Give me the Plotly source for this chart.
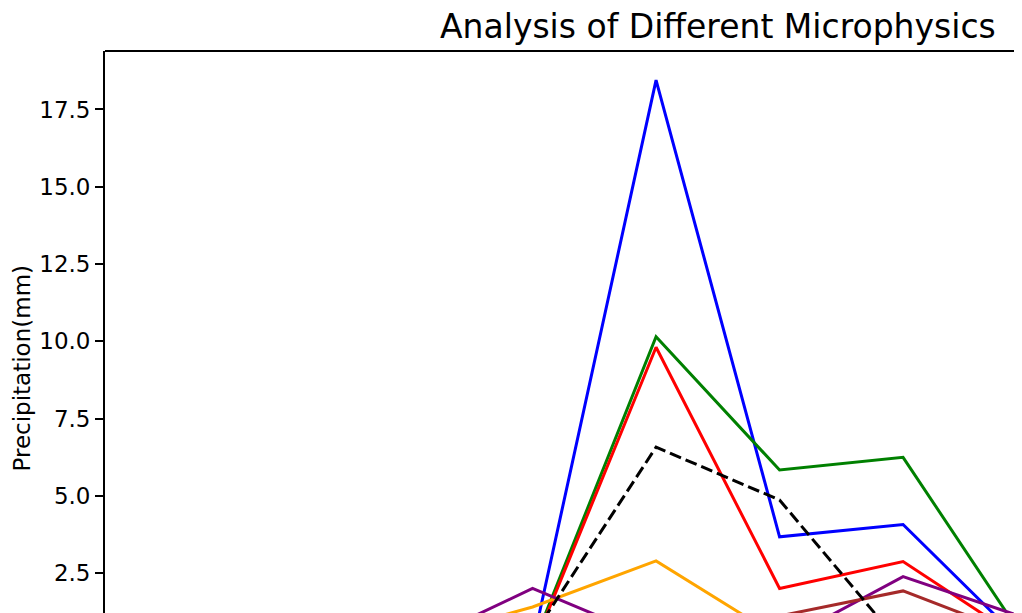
import plotly.graph_objects as go

# x positions (time steps); only part of the axis is visible in the reference
time_steps = [0, 1, 2, 3, 4, 5, 6, 7, 8, 9]

observation = [0.0, 0.0, 0.2, 0.46, 6.58, 4.87, 0.12, 0.10, 0.0, 0.0]
scheme_blue = [0.0, 0.0, 0.1, 0.20, 18.45, 3.68, 4.08, 0.14, 0.05, 0.0]
scheme_green = [0.0, 0.0, 0.1, 0.15, 10.15, 5.84, 6.25, 0.26, 0.05, 0.0]
scheme_red = [0.0, 0.0, 0.1, 0.05, 9.81, 2.01, 2.88, 0.25, 0.05, 0.0]
scheme_orange = [0.0, 0.0, 0.3, 1.41, 2.90, 0.42, 0.30, 0.10, 0.0, 0.0]
scheme_purple = [0.0, 0.0, 0.12, 2.01, 0.34, 0.25, 2.39, 1.04, 0.3, 0.0]
scheme_brown = [0.0, 0.0, 0.0, 0.10, 0.30, 1.12, 1.93, 0.40, 0.1, 0.0]

series = [
    ("Lin", scheme_blue, "#0000FF", "solid"),
    ("WSM6", scheme_green, "#008000", "solid"),
    ("Thompson", scheme_red, "#FF0000", "solid"),
    ("Morrison", scheme_orange, "#FFA500", "solid"),
    ("WDM6", scheme_purple, "#800080", "solid"),
    ("Goddard", scheme_brown, "#A52A2A", "solid"),
    ("Observation", observation, "#000000", "12px,5px"),
]

fig = go.Figure()
for name, vals, color, dash in series:
    fig.add_trace(go.Scatter(x=time_steps, y=vals, mode="lines", name=name,
                             line=dict(color=color, width=3, dash=dash)))

font_family = "DejaVu Sans"
fig.update_layout(
    width=1014, height=605,
    margin=dict(l=97, r=0, t=43, b=0),
    paper_bgcolor="white", plot_bgcolor="white",
    showlegend=False,
    font=dict(family=font_family, color="black", size=23),
    xaxis=dict(range=[-0.462, 6.963], showgrid=False, zeroline=False,
               showticklabels=False, ticks="", showline=False),
    yaxis=dict(range=[1.216, 19.39], showgrid=False, zeroline=False,
               tickvals=[2.5, 5.0, 7.5, 10.0, 12.5, 15.0, 17.5],
               tickformat=".1f", ticks="outside", ticklen=8, tickwidth=1.8,
               tickcolor="black", showline=True, linecolor="black", linewidth=1.8,
               tickfont=dict(family=font_family, size=23, color="black")),
    shapes=[dict(type="line", xref="paper", yref="paper", x0=0, x1=1, y0=1, y1=1,
                 line=dict(color="black", width=1.8))],
    annotations=[
        dict(text="Analysis of Different Microphysics", xref="paper", yref="paper",
             x=0.6685, y=1 + (51 - 27) / 562, xanchor="center", yanchor="middle",
             showarrow=False, font=dict(family=font_family, size=33, color="black")),
        dict(text="Precipitation(mm)", xref="paper", yref="paper",
             x=-83 / 917, y=(613 - 368.5) / 562, xanchor="center", yanchor="middle",
             textangle=-90, showarrow=False,
             font=dict(family=font_family, size=23, color="black")),
    ],
)

fig.write_html("out.html", config={"displayModeBar": False})
